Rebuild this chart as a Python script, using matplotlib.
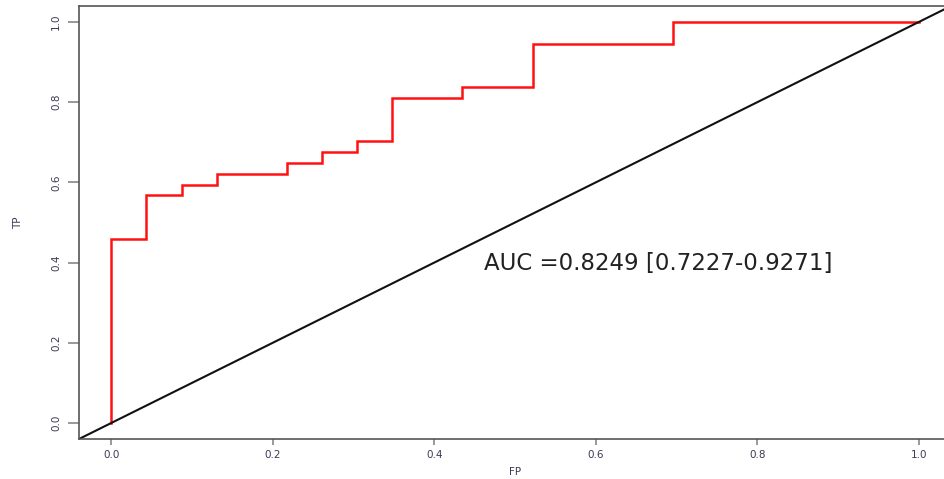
import matplotlib
matplotlib.use("Agg")
import matplotlib.pyplot as plt

plt.rcParams['font.family'] = ['DejaVu Sans']

fp = [0.0, 0.0, 0.0435, 0.0435, 0.087, 0.087, 0.1304, 0.1304, 0.2174, 0.2174,
      0.2609, 0.2609, 0.3043, 0.3043, 0.3478, 0.3478, 0.4348, 0.4348, 0.5217, 0.5217,
      0.6957, 0.6957, 1.0]
tp = [0.0, 0.4595, 0.4595, 0.5676, 0.5676, 0.5946, 0.5946, 0.6216, 0.6216, 0.6486,
      0.6486, 0.6757, 0.6757, 0.7027, 0.7027, 0.8108, 0.8108, 0.8378, 0.8378, 0.9459,
      0.9459, 1.0, 1.0]
ticks = [0.0, 0.2, 0.4, 0.6, 0.8, 1.0]
tick_labels = ["0.0", "0.2", "0.4", "0.6", "0.8", "1.0"]
auc_text = "AUC =0.8249 [0.7227-0.9271]"

W, H = 944, 479
fig = plt.figure(figsize=(W / 100, H / 100), dpi=100)
ax = fig.add_axes([79 / W, (H - 439) / H, (951 - 79) / W, (439 - 6) / H])

ax.plot(fp, tp, color='#ff1111', lw=1.8, solid_joinstyle='miter')
ax.axline((0, 0), slope=1, color='#111111', lw=1.5)

ax.set_xlim(-0.04, 1.04)
ax.set_ylim(-0.04, 1.04)
ax.set_xticks(ticks)
ax.set_xticklabels(tick_labels)
ax.set_yticks(ticks)
ax.set_yticklabels(tick_labels, rotation=90, va='center')

for s in ax.spines.values():
    s.set_color('#555555')
    s.set_linewidth(1.2)
ax.tick_params(axis='x', length=4, width=1.2, color='#888888', labelsize=7.5,
               labelcolor='#3a3a55', pad=4)
ax.tick_params(axis='y', length=8, width=1.2, color='#888888', labelsize=7.5,
               labelcolor='#3a3a55', pad=5)

ax.set_xlabel("FP", fontsize=7.5, color='#3a3a55', va='center', ha='center')
ax.xaxis.set_label_coords(0.5, -33 / 433)
ax.set_ylabel("TP", fontsize=7.5, color='#3a3a55', va='center', ha='center')
ax.yaxis.set_label_coords(-61 / 872, 0.5)

ax.text(0.461, 0.398, auc_text, fontsize=16.5, color='#222222', va='center', ha='left')

fig.savefig("out.png", dpi=100)
